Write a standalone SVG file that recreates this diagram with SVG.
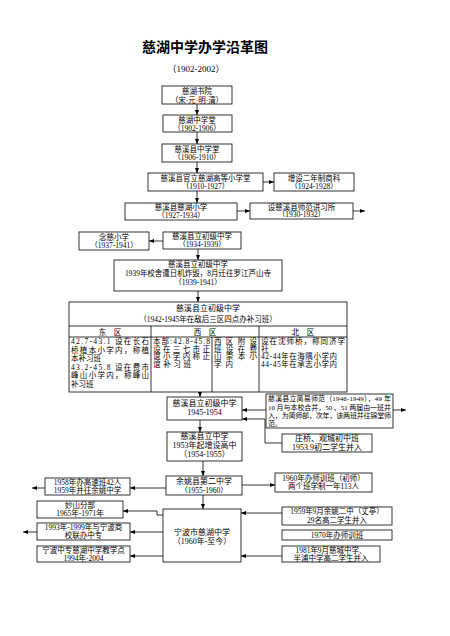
<svg xmlns="http://www.w3.org/2000/svg" width="450" height="636" viewBox="0 0 450 636">
<style>
.b{fill:#fff;stroke:#000;stroke-width:0.8}
.l{fill:none;stroke:#000;stroke-width:0.8}
text{font-family:"Liberation Serif","Noto Sans CJK SC",serif;font-size:7.5px;fill:#000}
.c{text-anchor:middle}
.m{font-size:8px}
.title{font-family:"Noto Sans CJK SC","Liberation Sans",sans-serif;font-size:14px;font-weight:bold}
</style>
<defs>
<marker id="ah" markerWidth="5" markerHeight="4" refX="5" refY="2" orient="auto" markerUnits="userSpaceOnUse">
<path d="M0,0 L5,2 L0,4 Z" fill="#000"/>
</marker>
</defs>
<rect width="450" height="636" fill="#fff"/>
<text class="title c" x="205" y="52">慈湖中学办学沿革图</text>
<text class="c" x="196" y="72" style="font-size:9px">（1902-2002）</text>

<g id="connectors" marker-end="url(#ah)">
<line class="l" x1="197" y1="104" x2="197" y2="115"/>
<line class="l" x1="197" y1="132" x2="197" y2="144"/>
<line class="l" x1="197" y1="162" x2="197" y2="173"/>
<line class="l" x1="263" y1="182" x2="274" y2="182"/>
<line class="l" x1="197" y1="191" x2="197" y2="203"/>
<line class="l" x1="237" y1="211" x2="250" y2="211"/>
<line class="l" x1="353" y1="211" x2="365" y2="211"/>
<line class="l" x1="163" y1="241" x2="149" y2="241"/>
<line class="l" x1="198" y1="249" x2="198" y2="260"/>
<line class="l" x1="198" y1="291" x2="198" y2="302"/>
<line class="l" x1="200" y1="392" x2="200" y2="397"/>
<line class="l" x1="266" y1="410" x2="242" y2="410"/>
<line class="l" x1="393" y1="410" x2="406" y2="410"/>
<polyline class="l" points="282,443 265,443 265,419 242,419"/>
<line class="l" x1="200" y1="420" x2="200" y2="432"/>
<line class="l" x1="203" y1="461" x2="203" y2="476"/>
<line class="l" x1="166" y1="488" x2="130" y2="488"/>
<line class="l" x1="45" y1="488" x2="32" y2="488"/>
<line class="l" x1="242" y1="485" x2="275" y2="485"/>
<line class="l" x1="203" y1="495" x2="203" y2="509"/>
<polyline class="l" points="163,515 157,515 157,511 123,511"/>
<line class="l" x1="163" y1="532" x2="130" y2="532"/>
<line class="l" x1="37" y1="532" x2="23" y2="532"/>
<line class="l" x1="163" y1="556" x2="130" y2="556"/>
<line class="l" x1="282" y1="513" x2="241" y2="513"/>
<line class="l" x1="282" y1="556" x2="241" y2="556"/>
</g>

<g id="n1"><rect class="b" x="162" y="86" width="70" height="18"/>
<text class="c" x="197" y="94">慈湖书院</text>
<text class="c" x="197" y="102.5">（宋·元·明·清）</text></g>
<g id="n2"><rect class="b" x="163" y="115" width="69" height="17"/>
<text class="c" x="197" y="122.5">慈湖中学堂</text>
<text class="c" x="197" y="130.5">（1902-1906）</text></g>
<g id="n3"><rect class="b" x="162" y="144" width="70" height="18"/>
<text class="c" x="197" y="151.5">慈溪县中学堂</text>
<text class="c" x="197" y="160">（1906-1910）</text></g>
<g id="n4"><rect class="b" x="148" y="173" width="115" height="18"/>
<text class="c" x="205.5" y="180.5">慈溪县官立慈湖高等小学堂</text>
<text class="c" x="205.5" y="189">（1910-1927）</text></g>
<g id="n5"><rect class="b" x="274" y="173" width="80" height="18"/>
<text class="c" x="314" y="180.5">增设二年制商科</text>
<text class="c" x="314" y="189">（1924-1928）</text></g>
<g id="n6"><rect class="b" x="125" y="203" width="112" height="17"/>
<text class="c" x="181" y="210">慈溪县慈湖小学</text>
<text class="c" x="181" y="218">（1927-1934）</text></g>
<g id="n7"><rect class="b" x="250" y="203" width="103" height="16"/>
<text class="c" x="301.5" y="209.5">设慈溪县师范讲习所</text>
<text class="c" x="301.5" y="217">（1930-1932）</text></g>
<g id="n8"><rect class="b" x="79" y="232" width="70" height="18"/>
<text class="c" x="114" y="239.5">念慈小学</text>
<text class="c" x="114" y="248">（1937-1941）</text></g>
<g id="n9"><rect class="b" x="163" y="232" width="78" height="17"/>
<text class="c" x="202" y="239">慈溪县立初级中学</text>
<text class="c" x="202" y="247">（1934-1939）</text></g>
<g id="n10"><rect class="b" x="114" y="260" width="168" height="31"/>
<text class="c" x="198" y="267">慈溪县立初级中学</text>
<text class="c" x="198" y="275.5">1939年校舍遭日机炸毁，8月迁往罗江芦山寺</text>
<text class="c" x="198" y="284.5">（1939-1941）</text></g>

<g id="n11">
<rect class="b" x="69" y="302" width="278" height="90"/>
<line class="l" x1="69" y1="326" x2="347" y2="326"/>
<line class="l" x1="69" y1="337" x2="347" y2="337"/>
<line class="l" x1="151" y1="326" x2="151" y2="392"/>
<line class="l" x1="259" y1="326" x2="259" y2="392"/>
<line class="l" x1="212" y1="337" x2="212" y2="392"/>
<text class="c m" x="208" y="311">慈溪县立初级中学</text>
<text class="c" x="208" y="322">（1942-1945年在敌后三区四点办补习班）</text>
<text class="c" x="110" y="334.5">东　区</text>
<text class="c" x="205" y="334.5">西　区</text>
<text class="c" x="303" y="334.5">北　区</text>
<text x="71" y="344" textLength="78" lengthAdjust="spacing">42.7-43.1 设在长石</text>
<text x="71" y="352.5" textLength="78" lengthAdjust="spacing">桥植本小学内，称植</text>
<text x="71" y="361">本补习班</text>
<text x="71" y="369.5" textLength="78" lengthAdjust="spacing">43.2-45.8 设在费市</text>
<text x="71" y="378" textLength="78" lengthAdjust="spacing">峰山小学内，称峰山</text>
<text x="71" y="387">补习班</text>
<text x="153" y="344" textLength="57" lengthAdjust="spacing">本部:42.8-45.8</text>
<text x="153" y="351.5" textLength="57" lengthAdjust="spacing">设在三七市正</text>
<text x="153" y="359" textLength="57" lengthAdjust="spacing">谊小学内称正</text>
<text x="153" y="366.5" textLength="38" lengthAdjust="spacing">谊补习班</text>
<text x="214" y="344" textLength="43" lengthAdjust="spacing">西区附设</text>
<text x="214" y="351.5" textLength="43" lengthAdjust="spacing">班设在费</text>
<text x="214" y="359" textLength="43" lengthAdjust="spacing">山崇本小</text>
<text x="214" y="366.5" textLength="19" lengthAdjust="spacing">学内</text>
<text x="261" y="344" textLength="84" lengthAdjust="spacing">设在沈师桥，称同济学</text>
<text x="261" y="351.5">社</text>
<text x="261" y="359" textLength="76" lengthAdjust="spacing">42-44年在海隅小学内</text>
<text x="261" y="366.5" textLength="76" lengthAdjust="spacing">44-45年在承志小学内</text>
</g>

<g id="n12"><rect class="b" x="167" y="397" width="75" height="23"/>
<text class="c m" x="204.5" y="406">慈溪县立初级中学</text>
<text class="c m" x="204.5" y="415">1945-1954</text></g>
<g id="n13"><rect class="b" x="266" y="394" width="127" height="34"/>
<text x="268" y="401" textLength="123" lengthAdjust="spacing" style="font-size:7px">慈溪县立简易师范（1946-1949），49 年</text>
<text x="268" y="409.5" textLength="123" lengthAdjust="spacing" style="font-size:7px">10 月与本校合并，50 、51 两届由一班并</text>
<text x="268" y="418" textLength="123" lengthAdjust="spacing" style="font-size:7px">入，为简师部，次年，该两班并往锦堂师</text>
<text x="268" y="426" style="font-size:7px">范。</text></g>
<g id="n14"><rect class="b" x="282" y="434" width="90" height="18"/>
<text class="c m" x="327" y="441">庄桥、观城初中班</text>
<text class="c m" x="327" y="450">1953.9初二学生并入</text></g>
<g id="n15"><rect class="b" x="167" y="432" width="75" height="29"/>
<text class="c m" x="204.5" y="439">慈溪县立中学</text>
<text class="c m" x="204.5" y="448">1953年起增设高中</text>
<text class="c m" x="204.5" y="457">（1954-1955）</text></g>
<g id="n16"><rect class="b" x="166" y="476" width="76" height="19"/>
<text class="c m" x="204" y="484">余姚县第二中学</text>
<text class="c" x="204" y="492.5">（1955-1960）</text></g>
<g id="n17"><rect class="b" x="45" y="478" width="85" height="17"/>
<text class="c" x="87.5" y="485">1958年办高速班42人</text>
<text class="c" x="87.5" y="493">1959年并往余姚中学</text></g>
<g id="n18"><rect class="b" x="275" y="473" width="97" height="19"/>
<text class="c" x="323.5" y="480.5">1960年办师训班（初师）</text>
<text class="c" x="323.5" y="489">两个班学制一年113人</text></g>
<g id="n19"><rect class="b" x="163" y="509" width="78" height="53"/>
<text class="c m" x="202" y="535">宁波市慈湖中学</text>
<text class="c m" x="202" y="544">（1960年-至今）</text></g>
<g id="n20"><rect class="b" x="37" y="501" width="86" height="17"/>
<text class="c" x="80" y="508">妙山分部</text>
<text class="c" x="80" y="516">1965年-1971年</text></g>
<g id="n21"><rect class="b" x="37" y="523" width="93" height="17"/>
<text class="c" x="83.5" y="530">1993年-1999年与宁波商</text>
<text class="c" x="83.5" y="538">校联办中专</text></g>
<g id="n22"><rect class="b" x="37" y="546" width="93" height="16"/>
<text class="c" x="83.5" y="552.5">宁波中专慈湖中学教学点</text>
<text class="c" x="83.5" y="560.5">1994年-2004</text></g>
<g id="n23"><rect class="b" x="282" y="507" width="110" height="18"/>
<text class="c" x="337" y="514">1959年9月余姚二中（丈亭）</text>
<text class="c" x="337" y="522.5">29名高二学生并入</text></g>
<g id="n24"><rect class="b" x="282" y="530" width="110" height="10"/>
<text class="c" x="337" y="538">1970年办师训班</text></g>
<g id="n25"><rect class="b" x="282" y="546" width="98" height="16"/>
<text class="c" x="331" y="552.5">1981年9月慈城中学、</text>
<text class="c" x="331" y="560.5">半浦中学高二学生并入</text></g>
</svg>
